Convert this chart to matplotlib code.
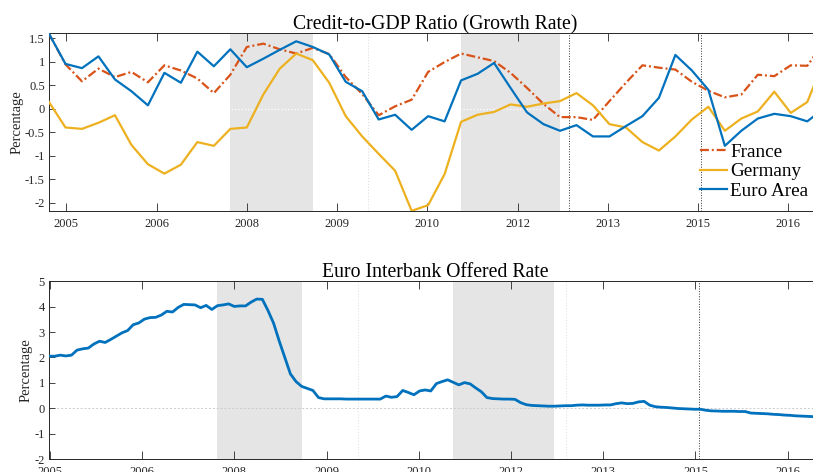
import numpy as np
import matplotlib
matplotlib.use("Agg")
import matplotlib.pyplot as plt

# ---------------- data ----------------
year_labels = ["2005", "2006", "2008", "2009", "2010", "2012", "2013", "2015", "2016"]

# quarterly credit-to-GDP growth (percentage)
france = [1.59, 0.94, 0.58, 0.85, 0.67, 0.78, 0.56, 0.92, 0.81, 0.64, 0.33, 0.72,
          1.31, 1.38, 1.26, 1.17, 1.29, 1.16, 0.67, 0.31, -0.14, 0.05, 0.19, 0.78,
          0.99, 1.17, 1.09, 1.01, 0.76, 0.44, 0.10, -0.18, -0.18, -0.24, 0.16, 0.55,
          0.92, 0.87, 0.83, 0.57, 0.38, 0.24, 0.30, 0.72, 0.69, 0.92, 0.91, 1.40]
germany = [0.14, -0.40, -0.43, -0.30, -0.14, -0.77, -1.18, -1.38, -1.19, -0.71, -0.79, -0.43,
           -0.40, 0.30, 0.85, 1.17, 1.03, 0.55, -0.16, -0.59, -0.96, -1.32, -2.17, -2.05,
           -1.39, -0.28, -0.13, -0.07, 0.09, 0.04, 0.11, 0.16, 0.33, 0.07, -0.33, -0.40,
           -0.71, -0.89, -0.59, -0.23, 0.04, -0.47, -0.21, -0.06, 0.36, -0.09, 0.14, 1.00]
euro_area = [1.59, 0.95, 0.86, 1.11, 0.62, 0.37, 0.07, 0.76, 0.55, 1.21, 0.90, 1.26,
             0.88, 1.06, 1.25, 1.43, 1.31, 1.15, 0.57, 0.37, -0.23, -0.13, -0.45, -0.16,
             -0.27, 0.60, 0.74, 0.97, 0.44, -0.08, -0.33, -0.47, -0.35, -0.59, -0.59, -0.37,
             -0.16, 0.23, 1.14, 0.81, 0.40, -0.79, -0.47, -0.21, -0.11, -0.16, -0.27, 0.00]

# monthly Euribor (percentage)
euribor = [2.05, 2.05, 2.09, 2.06, 2.09, 2.29, 2.34, 2.37, 2.53, 2.64, 2.59, 2.71, 2.84,
           2.97, 3.06, 3.29, 3.36, 3.51, 3.57, 3.58, 3.67, 3.82, 3.79, 3.97, 4.09, 4.08,
           4.07, 3.96, 4.05, 3.89, 4.04, 4.07, 4.11, 4.01, 4.03, 4.03, 4.18, 4.30, 4.29,
           3.85, 3.35, 2.65, 2.00, 1.35, 1.05, 0.86, 0.78, 0.70, 0.42, 0.37, 0.37, 0.37,
           0.37, 0.36, 0.36, 0.36, 0.36, 0.36, 0.36, 0.36,
           0.48, 0.43, 0.46, 0.70, 0.62, 0.53, 0.68, 0.72, 0.68, 0.97, 1.05, 1.12, 1.02,
           0.92, 1.01, 0.96, 0.80, 0.65, 0.42, 0.38, 0.37, 0.36, 0.36, 0.35,
           0.22, 0.14, 0.11, 0.10, 0.09, 0.08, 0.08, 0.09, 0.10, 0.10, 0.12, 0.13, 0.12,
           0.12, 0.12, 0.13, 0.13,
           0.18, 0.21, 0.18, 0.19, 0.25, 0.27, 0.12, 0.06, 0.04, 0.03, 0.01, -0.01, -0.02,
           -0.03, -0.04, -0.04,
           -0.08, -0.105, -0.11, -0.12, -0.12, -0.12, -0.13, -0.13, -0.19, -0.20, -0.21,
           -0.22, -0.24, -0.25, -0.27, -0.28, -0.30, -0.31, -0.32, -0.33, -0.34]

# events, in months since the first Euribor observation
recessions = [(30, 45), (72, 90)]
top_events = [91.7, 115.7]
bottom_events = [115.8]
faint_top = [55]
faint_bottom = [55, 92]

# ---------------- style ----------------
plt.rcParams["font.family"] = ["Liberation Serif", "DejaVu Serif"]
C_FR, C_DE, C_EA = "#D95319", "#EDB120", "#0072BD"
AXC = "#262626"

W, H = 813, 472
fig = plt.figure(figsize=(W / 100, H / 100), dpi=100)
ax1 = fig.add_axes([49 / W, 1 - 211.3 / H, 772 / W, 178 / H])
ax2 = fig.add_axes([49 / W, 1 - 459 / H, 772 / W, 177.7 / H])

month_per_tick = 500 / (365.25 / 12)
tick_pos = 0.15 + month_per_tick * np.arange(len(year_labels))

x_q = 3 * (np.arange(len(france)) - 1)
x_m = np.arange(len(euribor))

for ax in (ax1, ax2):
    for a, b in recessions:
        ax.axvspan(a, b, color="#e5e5e5", lw=0, zorder=0)

# top panel
ax1.axhline(0, color="white", ls=":", lw=0.9, zorder=1)
for v in faint_top:
    ax1.axvline(v, color="#dedede", ls=":", lw=0.8, zorder=1)
for v in top_events:
    ax1.axvline(v, color="#333333", ls=":", lw=0.7, zorder=1)
ax1.plot(x_q, france, color=C_FR, lw=1.6, ls=(0, (4, 1.3, 0.9, 1.3)), label="France", zorder=3)
ax1.plot(x_q, germany, color=C_DE, lw=1.6, label="Germany", zorder=3)
ax1.plot(x_q, euro_area, color=C_EA, lw=1.6, label="Euro Area", zorder=3)
ax1.set_xlim(-3, 137.5)
ax1.set_ylim(-2.18, 1.6)
yt1 = [-2, -1.5, -1, -0.5, 0, 0.5, 1, 1.5]
ax1.set_yticks(yt1)
ax1.set_yticklabels([f"{v:g}" for v in yt1])
ax1.set_title("Credit-to-GDP Ratio (Growth Rate)", fontsize=14.2, pad=3)
leg = ax1.legend(frameon=False, loc="upper left", bbox_to_anchor=(0.843, 0.382),
                 borderpad=0, borderaxespad=0, fontsize=13.8, handlelength=1.42,
                 handletextpad=0.18, labelspacing=0.12)

# bottom panel
ax2.axhline(0, color="#cccccc", ls=(0, (2, 2)), lw=0.7, zorder=1)
for v in faint_bottom:
    ax2.axvline(v, color="#e3e3e3", ls=":", lw=0.8, zorder=1)
for v in bottom_events:
    ax2.axvline(v, color="#333333", ls=":", lw=0.7, zorder=1)
ax2.plot(x_m, euribor, color=C_EA, lw=2.0, zorder=3)
ax2.set_xlim(0, 137.5)
ax2.set_ylim(-2, 5)
yt2 = list(range(-2, 6))
ax2.set_yticks(yt2)
ax2.set_yticklabels([f"{v:g}" for v in yt2])
ax2.set_title("Euro Interbank Offered Rate", fontsize=14.2, pad=3)

for ax in (ax1, ax2):
    ax.set_xticks(tick_pos)
    ax.set_xticklabels(year_labels)
    ax.tick_params(axis="x", direction="in", top=True, length=5.5, width=0.6,
                   colors=AXC, labelsize=9, pad=5)
    ax.tick_params(axis="y", direction="in", right=True, length=4.5, width=0.6,
                   colors=AXC, labelsize=9, pad=3)
    for s in ax.spines.values():
        s.set_color(AXC)
        s.set_linewidth(0.7)
    ax.set_ylabel("Percentage", fontsize=10.5, color=AXC)

ax1.yaxis.set_label_coords(-0.0333, 0.5)
ax2.yaxis.set_label_coords(-0.0207, 0.5)

fig.savefig("out.png", dpi=100)
